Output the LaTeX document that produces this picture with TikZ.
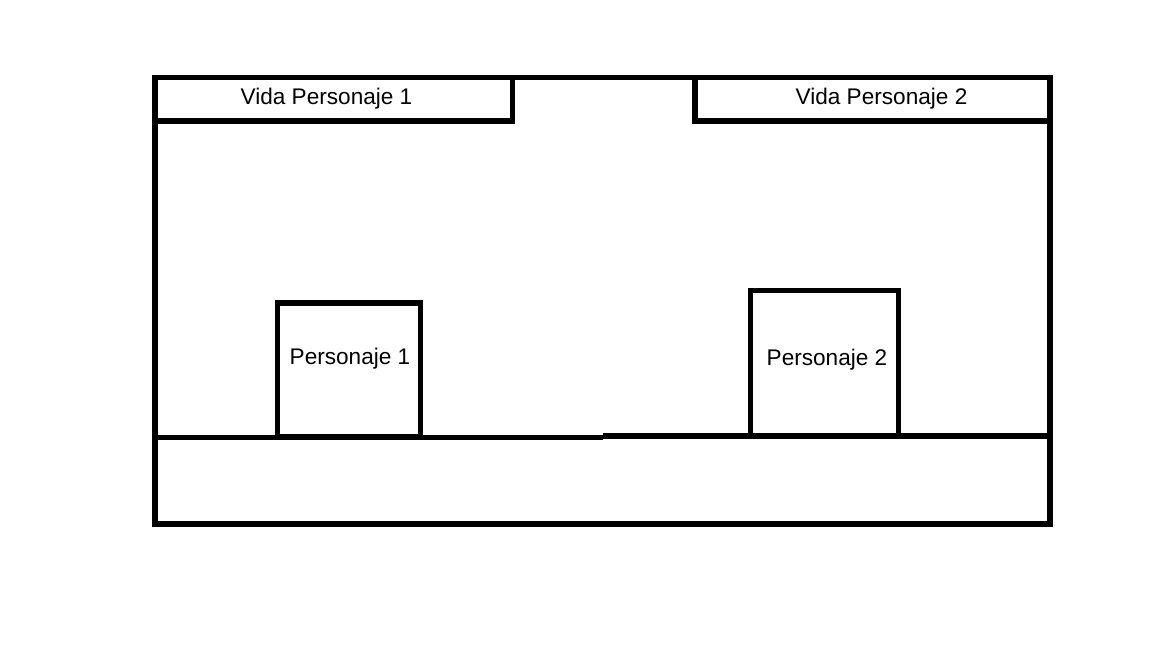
\documentclass[tikz,border=0pt]{standalone}
\usepackage{fontspec}
\setmainfont{Liberation Sans}
\begin{document}
\begin{tikzpicture}[x=1pt,y=-1pt,
  line width=5.4pt,
  lbl/.style={inner sep=0pt,font=\fontsize{22.6}{27}\selectfont}]
\useasboundingbox (0,0) rectangle (1152,648);
% outer frame
\draw (155,77.5) rectangle (1050,524);
% health bars
\draw (155,77.5) rectangle (512.5,121);
\draw (695,77.5) rectangle (1050,121);
% ground
\draw (155,437.5) -- (603,437.5);
\draw (603,436) -- (1053,436);
% characters
\draw (277.5,303) rectangle (420.5,437);
\draw (750.5,290.5) rectangle (898.5,436);
% labels
\node[lbl] (v1) at (326.5,98.5) {Vida Personaje 1};
\node[lbl] (v2) at (881.5,98.5) {Vida Personaje 2};
\node[lbl] (p1) at (350,358.5) {Personaje 1};
\node[lbl] (p2) at (827,359.5) {Personaje 2};
\end{tikzpicture}
\end{document}
